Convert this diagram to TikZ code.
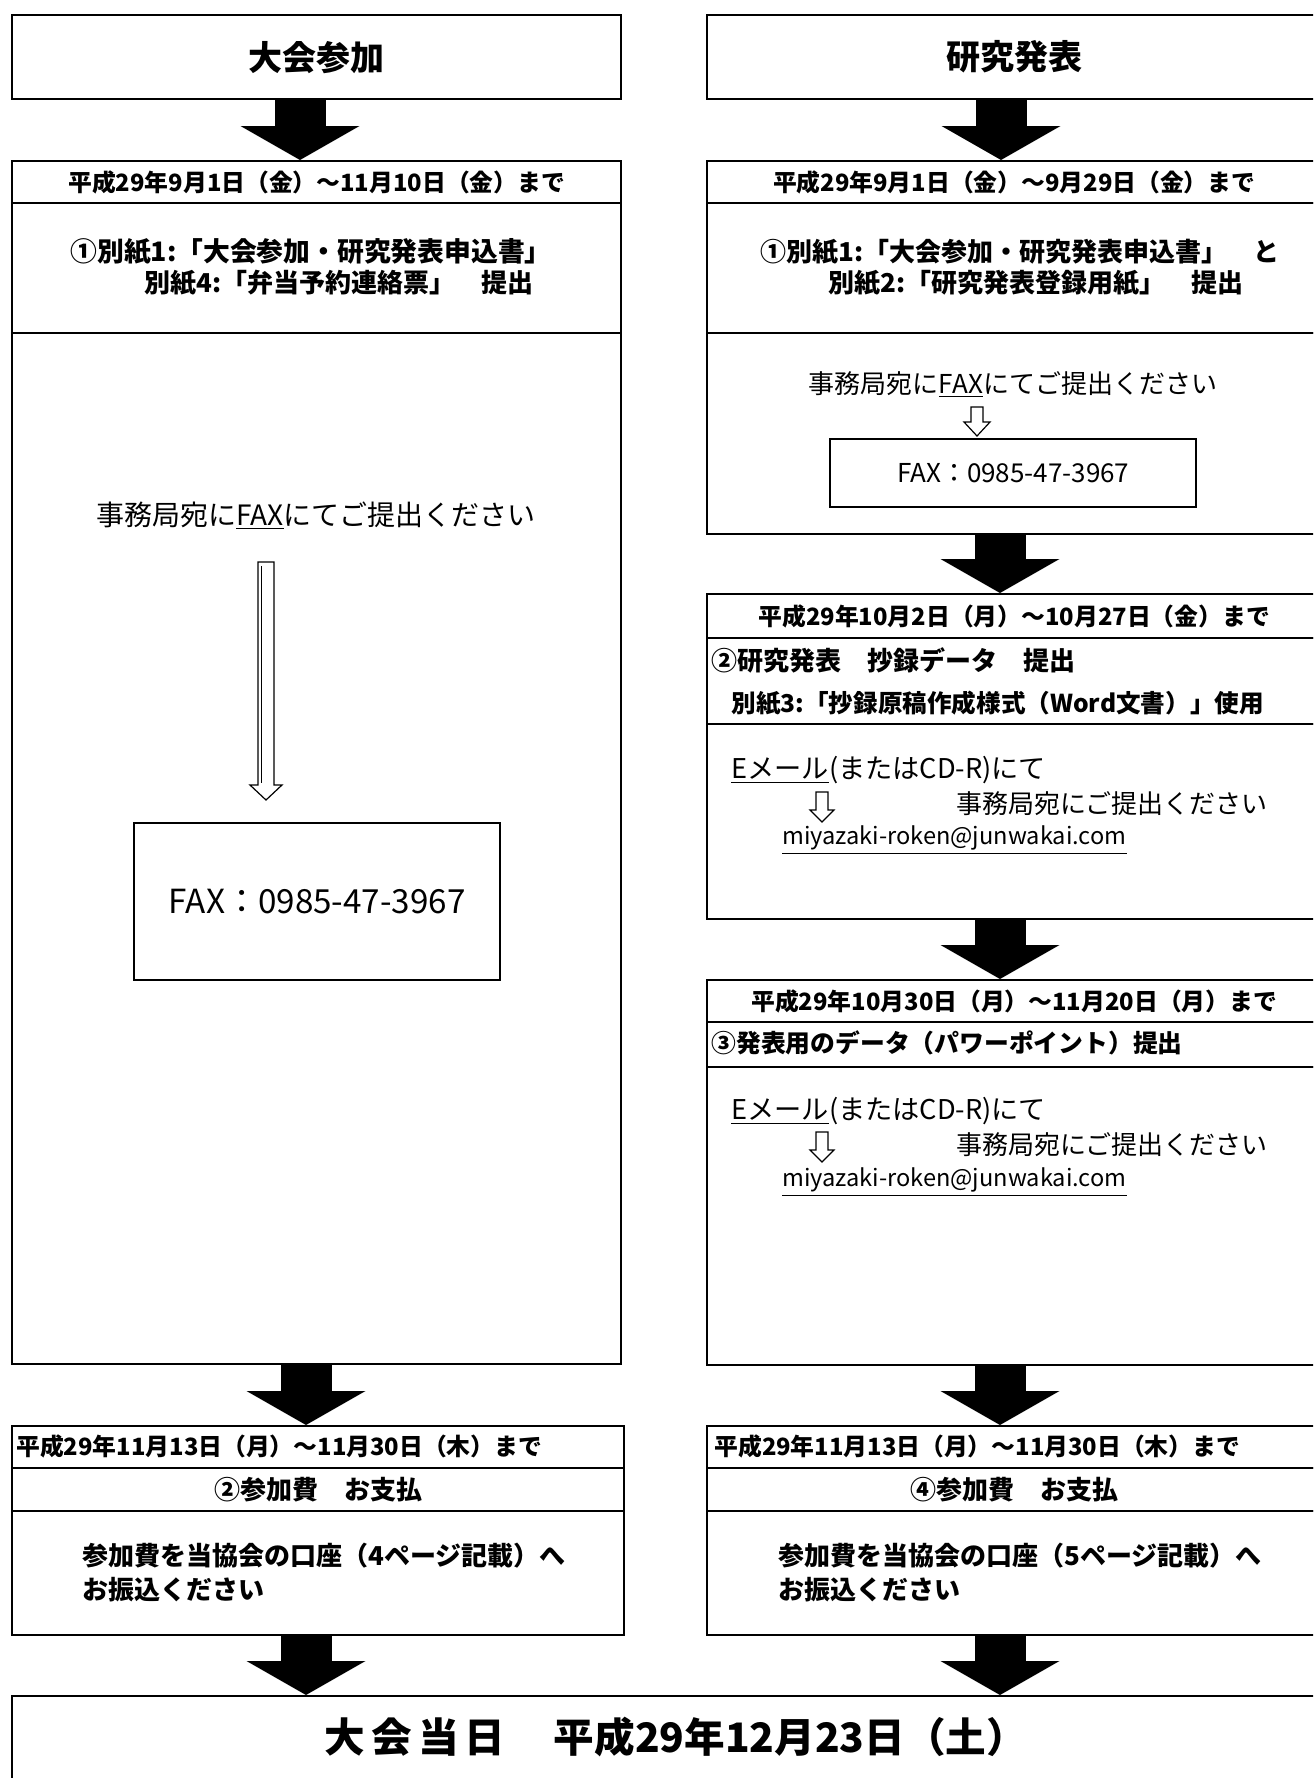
\documentclass[tikz,border=0pt]{standalone}
\usepackage{fontspec}
\setmainfont{Noto Sans CJK JP}
\usetikzlibrary{arrows.meta}
\newcommand\myT{\fontsize{17}{20}\selectfont\bfseries}
\newcommand\myD{\fontsize{11.9}{15}\selectfont\bfseries}
\newcommand\myB{\fontsize{13}{16}\selectfont\bfseries}
\newcommand\myR{\fontsize{13}{16}\selectfont}
\newcommand\myBig{\fontsize{20.3}{24}\selectfont\bfseries}
\newcommand\bx[6]{\node[boxst, minimum width={(#4-#2)*0.5pt}, minimum height={(#5-#3)*0.5pt}] (#1) at (#2,#3) {#6};}
\newcommand\hollow[6]{\draw[line width=0.6pt, fill=white, line join=miter] (#1-#5,#2) -- (#1+#5,#2) -- (#1+#5,#3) -- (#1+#6,#3) -- (#1,#4) -- (#1-#6,#3) -- (#1-#5,#3) -- cycle;}
\tikzset{
  x=0.5pt, y=-0.5pt,
  boxst/.style={draw, line width=1.2pt, inner sep=0pt, anchor=north west},
  lt/.style={inner sep=0pt, anchor=west},
  ct/.style={inner sep=0pt, anchor=center},
  blk/.style={line width=25.5pt, -{Triangle[length=17pt, width=59.5pt, line width=0pt]}},
}
\begin{document}
\begin{tikzpicture}
\useasboundingbox (0,0) rectangle (1313,1778);
\clip (0,0) rectangle (1313,1778);
\fill[white] (0,0) rectangle (1313,1778);
% ---------- left column ----------
\bx{Lt}{11}{14}{620}{98}{\myT 大会参加}
\bx{LAd}{11}{160}{620}{202}{\myD 平成29年9月1日（金）～11月10日（金）まで}
\bx{LAdoc}{11}{202}{620}{332}{}
\node[lt] (LAdoc1) at (70,252) {\fontsize{13.4}{16}\selectfont\bfseries ①別紙1:「大会参加・研究発表申込書」};
\node[lt] (LAdoc2) at (144,283) {\myB 別紙4:「弁当予約連絡票」　提出};
\bx{LAm}{11}{332}{620}{1363}{}
\node[ct] (LAfaxtxt) at (316,516) {\fontsize{14}{17}\selectfont 事務局宛に\underline{FAX}にてご提出ください};
\hollow{266}{562}{785}{800}{8}{16}
\draw[line width=0.4pt] (261,566) -- (261,783);
\bx{LFax}{133}{822}{499}{979}{\fontsize{16.6}{20}\selectfont FAX：0985-47-3967}
\bx{LPd}{11}{1425}{623}{1467}{}
\node[lt] (LPdt) at (16,1446) {\myD 平成29年11月13日（月）～11月30日（木）まで};
\bx{LPt}{11}{1467}{623}{1510}{\myB ②参加費　お支払}
\bx{LPb}{11}{1510}{623}{1634}{}
\node[lt] (LPb1) at (82,1556) {\myB 参加費を当協会の口座（4ページ記載）へ};
\node[lt] (LPb2) at (82,1590) {\myB お振込ください};
% ---------- right column ----------
\bx{Rt}{706}{14}{1320}{98}{\myT 研究発表}
\bx{RBd}{706}{160}{1320}{202}{\myD 平成29年9月1日（金）～9月29日（金）まで}
\bx{RBdoc}{706}{202}{1320}{332}{}
\node[lt] (RBdoc1) at (760,252) {\myB ①別紙1:「大会参加・研究発表申込書」　と};
\node[lt] (RBdoc2) at (828,283) {\myB 別紙2:「研究発表登録用紙」　提出};
\bx{RBm}{706}{332}{1320}{533}{}
\node[ct] (RBfaxtxt) at (1013,385) {\myR 事務局宛に\underline{FAX}にてご提出ください};
\hollow{977}{407}{422}{436}{6}{13}
\bx{RFax}{829}{438}{1195}{506}{\fontsize{13}{16}\selectfont FAX：0985-47-3967}
\bx{RCd}{706}{593}{1320}{637}{\myD 平成29年10月2日（月）～10月27日（金）まで}
\bx{RCt}{706}{637}{1320}{723}{}
\node[lt] (RCt1) at (711,660) {\myB ②研究発表　抄録データ　提出};
\node[lt] (RCt2) at (731,703) {\fontsize{12.3}{15}\selectfont\bfseries 別紙3:「抄録原稿作成様式（Word文書）」使用};
\bx{RCm}{706}{723}{1320}{918}{}
\node[lt] (RCm1) at (731,770) {\fontsize{13.6}{16}\selectfont \underline{Eメール}(またはCD-R)にて};
\hollow{822}{792}{810}{822}{6}{12}
\node[lt] (RCm2) at (956,804) {\myR 事務局宛にご提出ください};
\node[lt] (RCm3) at (782,840) {\fontsize{11.8}{15}\selectfont \underline{miyazaki-roken@junwakai.com}};
\bx{RDd}{706}{979}{1320}{1021}{\myD 平成29年10月30日（月）～11月20日（月）まで}
\bx{RDt}{706}{1021}{1320}{1066}{}
\node[lt] (RDt1) at (711,1043) {\fontsize{12.4}{15}\selectfont\bfseries ③発表用のデータ（パワーポイント）提出};
\bx{RDm}{706}{1066}{1320}{1364}{}
\node[lt] (RDm1) at (731,1111) {\fontsize{13.6}{16}\selectfont \underline{Eメール}(またはCD-R)にて};
\hollow{822}{1132}{1150}{1162}{6}{12}
\node[lt] (RDm2) at (956,1145) {\myR 事務局宛にご提出ください};
\node[lt] (RDm3) at (782,1182) {\fontsize{11.8}{15}\selectfont \underline{miyazaki-roken@junwakai.com}};
\bx{RPd}{706}{1425}{1320}{1467}{}
\node[lt] (RPdt) at (714,1446) {\myD 平成29年11月13日（月）～11月30日（木）まで};
\bx{RPt}{706}{1467}{1320}{1510}{\myB ④参加費　お支払}
\bx{RPb}{706}{1510}{1320}{1634}{}
\node[lt] (RPb1) at (778,1556) {\myB 参加費を当協会の口座（5ページ記載）へ};
\node[lt] (RPb2) at (778,1590) {\myB お振込ください};
% ---------- final ----------
\bx{Fin}{11}{1695}{1320}{1800}{}
\node[ct] (Fintxt) at (676,1737) {\myBig 大\hspace{3pt}会\hspace{3pt}当\hspace{3pt}日　\hspace{4pt}平成29年12月23日（土）};
% ---------- block arrows ----------
\coordinate (cL1) at (300,0);
\coordinate (cL2) at (306,0);
\coordinate (cR1) at (1001,0);
\coordinate (cR2) at (1000,0);
\draw[blk] (Lt.south -| cL1) -- (LAd.north -| cL1);
\draw[blk] (LAm.south -| cL2) -- (LPd.north -| cL2);
\draw[blk] (LPb.south -| cL2) -- (Fin.north -| cL2);
\draw[blk] (Rt.south -| cR1) -- (RBd.north -| cR1);
\draw[blk] (RBm.south -| cR2) -- (RCd.north -| cR2);
\draw[blk] (RCm.south -| cR2) -- (RDd.north -| cR2);
\draw[blk] (RDm.south -| cR2) -- (RPd.north -| cR2);
\draw[blk] (RPb.south -| cR2) -- (Fin.north -| cR2);
\end{tikzpicture}
\end{document}
